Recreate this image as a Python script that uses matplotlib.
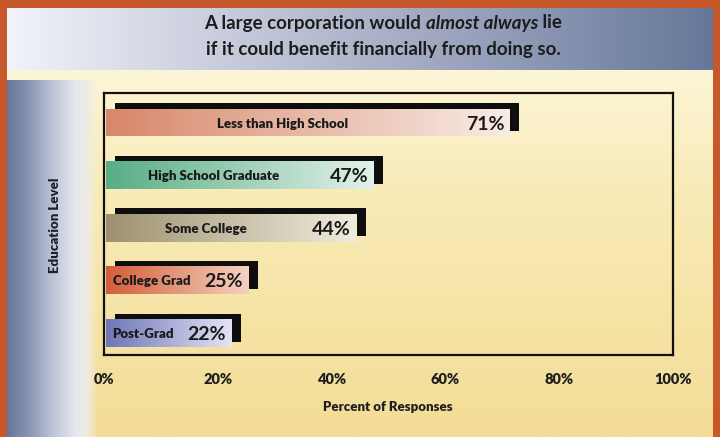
import numpy as np
import matplotlib
matplotlib.use("Agg")
import matplotlib.pyplot as plt
from matplotlib.colors import LinearSegmentedColormap
from matplotlib.offsetbox import TextArea, HPacker, AnnotationBbox

plt.rcParams['font.family'] = ['Lato', 'DejaVu Sans']

# data
levels = ['Less than High School', 'High School Graduate', 'Some College',
          'College Grad', 'Post-Grad']
shares = [71, 47, 44, 25, 22]
share_labels = ['71%', '47%', '44%', '25%', '22%']
ticks = [0, 20, 40, 60, 80, 100]
tick_labels = ['0%', '20%', '40%', '60%', '80%', '100%']
bar_colors = [('#D8876A', '#F8ECE6'),
              ('#58AD85', '#E2F2E8'),
              ('#9E9170', '#F0ECDC'),
              ('#D35E38', '#F4D2C2'),
              ('#6E76B6', '#E4E4F4')]

W, H = 720, 437
fig = plt.figure(figsize=(7.2, 4.37), dpi=100)

# background decoration (pixel coords)
bg = fig.add_axes([0, 0, 1, 1])
bg.set_xlim(0, W)
bg.set_ylim(H, 0)
bg.axis('off')
bg.add_patch(plt.Rectangle((0, 0), W, H, color='#C6582B', zorder=0))

row = np.linspace(0, 1, 256).reshape(1, -1)
col = np.linspace(0, 1, 256).reshape(-1, 1)

title_cm = LinearSegmentedColormap.from_list('t', ['#F2F3F9', '#C4C9DA', '#98A1BB', '#66789A'])
bg.imshow(row, cmap=title_cm, extent=(7, 713, 70, 8), aspect='auto', zorder=1)

yel_cm = LinearSegmentedColormap.from_list('y', ['#FCF5D6', '#F9EBB8', '#F6E4A6', '#F3DC96'])
bg.imshow(col, cmap=yel_cm, extent=(7, 713, 437, 70), aspect='auto', zorder=1)

# left blue strip fading into the yellow
side_cols = ['#65779A', '#8A96B3', '#BCC3D6', '#E6E8F0', '#F4F0DC']
side_cm = LinearSegmentedColormap.from_list('s', side_cols)
side = side_cm(np.linspace(0, 1, 256)).reshape(1, 256, 4)
side[0, :, 3] = np.clip((1 - np.linspace(0, 1, 256)) / 0.12, 0, 1)
bg.imshow(side, extent=(7, 98, 437, 80), aspect='auto', zorder=2)

bg.set_xlim(0, W)
bg.set_ylim(H, 0)

# title with an italic phrase
tp = dict(fontsize=13.5, fontweight='bold', color='#1C1C1C')
tpi = dict(tp, fontstyle='italic')
line1 = HPacker(children=[TextArea('A large corporation would ', textprops=tp),
                          TextArea('almost always', textprops=tpi),
                          TextArea(' lie', textprops=tp)],
                sep=0, pad=0, align='baseline')
fig.add_artist(AnnotationBbox(line1, (383 / W, 1 - 23 / H), xycoords='figure fraction',
                              frameon=False, box_alignment=(0.5, 0.5)))
fig.text(383 / W, 1 - 50 / H, 'if it could benefit financially from doing so.',
         ha='center', va='center', **tp)

# chart
ax = fig.add_axes([104 / W, 1 - 355 / H, (673 - 104) / W, (355 - 93) / H])
ax.set_facecolor('none')
ypos = np.arange(len(levels))
h = 0.53
for y, v, lab, pl, (c0, c1) in zip(ypos, shares, levels, share_labels, bar_colors):
    ax.barh(y - 0.1, v, left=2, height=h, color='#0E0E0E', zorder=2)
    bar = ax.barh(y, v, left=0.4, height=h, color=c1, zorder=3)[0]
    cm = LinearSegmentedColormap.from_list('b', [c0, c1])
    im = ax.imshow(row, cmap=cm, extent=(0.4, v + 0.4, y + h / 2, y - h / 2),
                   aspect='auto', zorder=4)
    im.set_clip_path(bar)
    ax.text(v - 0.6, y + 0.03, pl, ha='right', va='center', fontsize=14,
            fontweight='bold', color='#1A1A1A', zorder=5)
    ax.text((v - 8.3) / 2, y + 0.02, lab, ha='center', va='center', fontsize=9.5,
            fontweight='heavy', color='#1A1A1A', zorder=5)

ax.set_xlim(0, 100)
ax.set_ylim(4.42, -0.56)
ax.set_yticks([])
ax.set_xticks(ticks)
ax.set_xticklabels(tick_labels, fontsize=10.5, fontweight='heavy', color='#1E1E1E')
ax.tick_params(axis='x', length=0, pad=13)
for s in ax.spines.values():
    s.set_linewidth(1.6)
    s.set_color('#111111')

fig.text(388 / W, 1 - 407 / H, 'Percent of Responses', ha='center', va='center',
         fontsize=9.5, fontweight='heavy', color='#1E1E1E')
fig.text(55 / W, 1 - 225 / H, 'Education Level', ha='center', va='center',
         rotation=90, fontsize=9.5, fontweight='heavy', color='#1E1E2E')

fig.savefig('out.png', dpi=100)
